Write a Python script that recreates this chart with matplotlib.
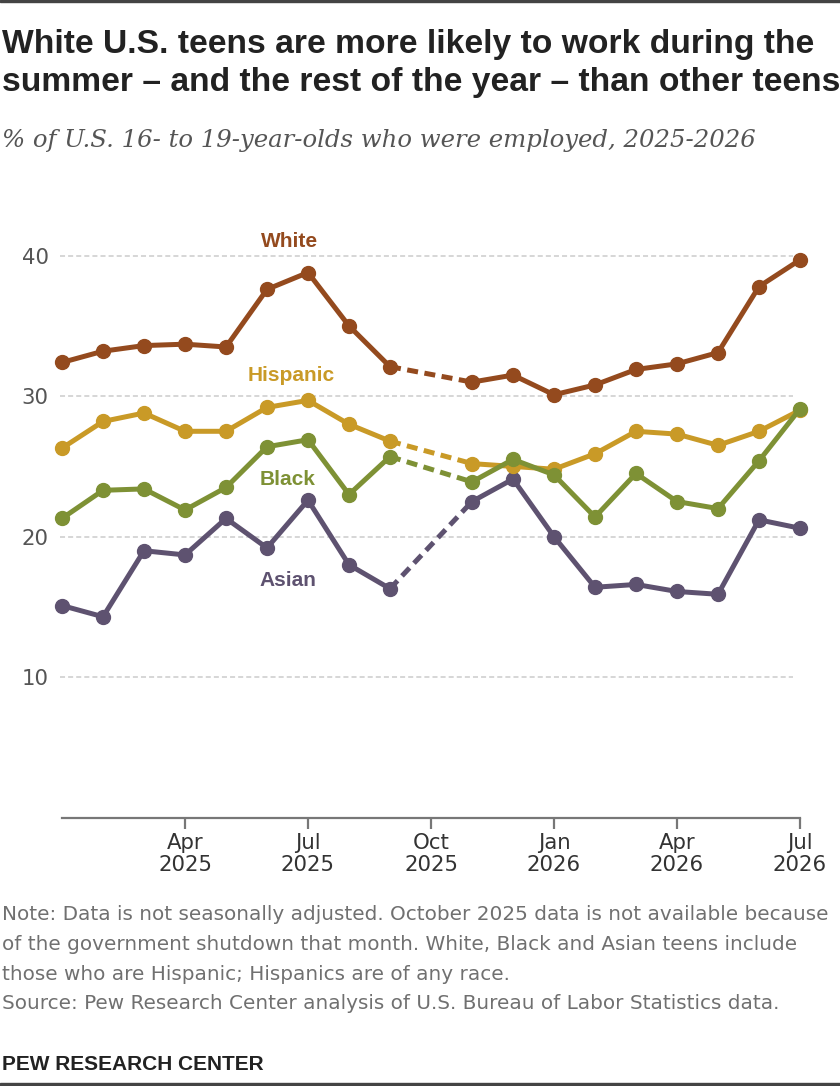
import numpy as np
import matplotlib.pyplot as plt
from matplotlib.patches import Rectangle

# monthly data, Jan 2025 .. Jul 2026 (Oct 2025 missing -> nan)
months = list(range(19))
tick_pos = [3, 6, 9, 12, 15, 18]
tick_labels = ["Apr\n2025", "Jul\n2025", "Oct\n2025", "Jan\n2026", "Apr\n2026", "Jul\n2026"]

nan = np.nan
white = [32.4, 33.2, 33.6, 33.7, 33.5, 37.6, 38.8, 35.0, 32.1, nan,
         31.0, 31.5, 30.1, 30.8, 31.9, 32.3, 33.1, 37.8, 39.7]
hispanic = [26.3, 28.2, 28.8, 27.5, 27.5, 29.2, 29.7, 28.0, 26.8, nan,
            25.2, 25.0, 24.8, 25.9, 27.5, 27.3, 26.5, 27.5, 29.0]
black = [21.3, 23.3, 23.4, 21.9, 23.5, 26.4, 26.9, 23.0, 25.7, nan,
         23.9, 25.5, 24.4, 21.4, 24.5, 22.5, 22.0, 25.4, 29.1]
asian = [15.1, 14.3, 19.0, 18.7, 21.3, 19.2, 22.6, 18.0, 16.3, nan,
         22.5, 24.1, 20.0, 16.4, 16.6, 16.1, 15.9, 21.2, 20.6]

c_white = "#944a1e"
c_hisp = "#c99a27"
c_black = "#7e9135"
c_asian = "#5e5270"

series = [
    ("Asian", asian, c_asian, 5.5, 16.9),
    ("Hispanic", hispanic, c_hisp, 5.6, 31.5),
    ("Black", black, c_black, 5.5, 24.1),
    ("White", white, c_white, 5.56, 41.0),
]

sans = ["Liberation Sans", "DejaVu Sans"]
wide = ["DejaVu Sans"]

fig = plt.figure(figsize=(8.4, 10.86), dpi=100)
ax = fig.add_axes([62 / 840, 268.3 / 1086, 738 / 840, 632.3 / 1086])
ax.set_xlim(0, 18)
ax.set_ylim(0, 45)

# grid lines
for yv in [10, 20, 30, 40]:
    ln, = ax.plot([-0.05, 17.83], [yv, yv], color="#cccccc", lw=1.1, zorder=0, clip_on=False)
    ln.set_dashes((3.3, 2.0))

for i, (name, vals, col, lx, ly) in enumerate(series):
    vals = np.array(vals)
    ax.plot(months, vals, color=col, lw=3.6, marker="o", markersize=10,
            solid_capstyle="round", clip_on=False, zorder=3 + i)
    # dashed bridge across missing October
    dl, = ax.plot([8, 10], [vals[8], vals[10]], color=col, lw=3.6, zorder=3 + i,
                  clip_on=False)
    dl.set_dashes((2.2, 1.3))
    ax.text(lx, ly, name, color=col, fontsize=15, fontweight="bold", family=sans,
            ha="center", va="center", zorder=10)

for s in ["top", "right", "left"]:
    ax.spines[s].set_visible(False)
ax.spines["bottom"].set_color("#777777")
ax.spines["bottom"].set_linewidth(1.6)

ax.set_xticks(tick_pos)
ax.set_xticklabels(tick_labels, family=wide, fontsize=15.3, color="#333333", linespacing=1.15)
ax.tick_params(axis="x", length=8, width=1.6, color="#777777", pad=3)
ax.set_yticks([10, 20, 30, 40])
ax.set_yticklabels(["10", "20", "30", "40"], family=wide, fontsize=15.3, color="#555555")
ax.tick_params(axis="y", length=0, pad=9.5)

# titles
fig.text(2 / 840, 1 - 53 / 1086, "White U.S. teens are more likely to work during the",
         family=sans, fontsize=24.2, fontweight="bold", color="#222222", va="baseline")
fig.text(2 / 840, 1 - 91 / 1086, "summer \u2013 and the rest of the year \u2013 than other teens",
         family=sans, fontsize=24.2, fontweight="bold", color="#222222", va="baseline")
fig.text(2 / 840, 1 - 147 / 1086, "% of U.S. 16- to 19-year-olds who were employed, 2025-2026",
         family=["DejaVu Serif"], style="italic", fontsize=17.6, color="#555555", va="baseline")

notes = [
    "Note: Data is not seasonally adjusted. October 2025 data is not available because",
    "of the government shutdown that month. White, Black and Asian teens include",
    "those who are Hispanic; Hispanics are of any race.",
    "Source: Pew Research Center analysis of U.S. Bureau of Labor Statistics data.",
]
note_y = [920, 950, 980, 1009]
for txt, yy in zip(notes, note_y):
    fig.text(2 / 840, 1 - yy / 1086, txt, family=wide, fontsize=14.45, color="#707070",
             va="baseline")

fig.text(2 / 840, 1 - 1070 / 1086, "PEW RESEARCH CENTER", family=sans, fontsize=15,
         fontweight="bold", color="#222222", va="baseline")

# thin dark rules at top and bottom
fig.patches.append(Rectangle((0, 1 - 2 / 1086), 1, 2 / 1086, transform=fig.transFigure,
                             color="#444444", zorder=0))
fig.patches.append(Rectangle((0, 0), 1, 3 / 1086, transform=fig.transFigure,
                             color="#444444", zorder=0))

fig.savefig("out.png", dpi=100)
